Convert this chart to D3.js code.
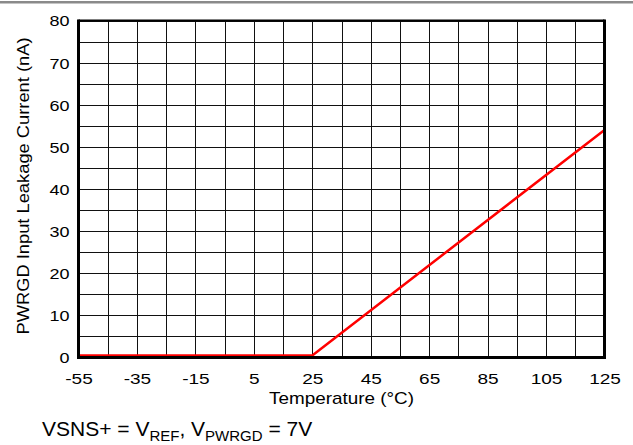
<!DOCTYPE html>
<html><head><meta charset="utf-8">
<script src="https://cdn.jsdelivr.net/npm/d3@7"></script>
<style>body{margin:0;background:#fff;} svg{display:block;} text{font-family:"Liberation Sans",Arial,sans-serif;fill:#000;}</style>
</head><body>
<svg id="c" width="633" height="445"></svg>
<script>
const temps = [-55, 25, 125];
const leakage = [0.5, 0.5, 54];
const xTicks = [-55, -35, -15, 5, 25, 45, 65, 85, 105, 125];
const yTicks = [0, 10, 20, 30, 40, 50, 60, 70, 80];
const xLabel = "Temperature (°C)";
const yLabel = "PWRGD Input Leakage Current (nA)";

const svg = d3.select("#c");
const L = 78.5, R = 604.5, T = 20.5, B = 357.5;
const x = d3.scaleLinear().domain([-55, 125]).range([L, R]);
const y = d3.scaleLinear().domain([0, 80]).range([B, T]);

// top bar
svg.append("rect").attr("x", 0).attr("y", 1).attr("width", 633).attr("height", 2.5).attr("fill", "#8a8a8a");

// grid
const g = svg.append("g");
g.selectAll(".vg").data(d3.range(-55, 126, 10)).enter().append("line")
  .attr("x1", d => Math.round(x(d)) + 0.5).attr("x2", d => Math.round(x(d)) + 0.5)
  .attr("y1", T).attr("y2", B).attr("stroke", "#111").attr("stroke-width", 1);
g.selectAll(".hg").data(d3.range(0, 81, 5)).enter().append("line")
  .attr("y1", d => Math.round(y(d)) + 0.5).attr("y2", d => Math.round(y(d)) + 0.5)
  .attr("x1", L).attr("x2", R).attr("stroke", "#111").attr("stroke-width", 1);

// data line
svg.append("path")
  .datum(temps.map((t, i) => [t, leakage[i]]))
  .attr("d", d3.line().x(d => x(d[0])).y(d => y(d[1])))
  .attr("fill", "none").attr("stroke", "#ff0000").attr("stroke-width", 2.5);

// border
svg.append("line").attr("x1", L).attr("x2", R).attr("y1", T).attr("y2", T).attr("stroke", "#000").attr("stroke-width", 2);
svg.append("line").attr("x1", R).attr("x2", R).attr("y1", T - 1).attr("y2", B + 1.5).attr("stroke", "#000").attr("stroke-width", 3);
svg.append("line").attr("x1", L).attr("x2", L).attr("y1", T - 1).attr("y2", B + 1.5).attr("stroke", "#000").attr("stroke-width", 3);
svg.append("line").attr("x1", L - 1.5).attr("x2", R + 1.5).attr("y1", B).attr("y2", B).attr("stroke", "#000").attr("stroke-width", 3);

// axes
const fmt = d => String(d);
const xAxis = d3.axisBottom(x).tickValues(xTicks).tickFormat(fmt).tickSize(0).tickPadding(0);
const xa = svg.append("g").attr("transform", `translate(0,${B})`).call(xAxis);
xa.select(".domain").remove();
xa.selectAll("text").attr("font-size", 15).attr("dy", null).attr("y", 27)
  .attr("transform", "scale(1.27,1)")
  .style("font-family", '"Liberation Sans",Arial,sans-serif').attr("fill", "#000");

const yAxis = d3.axisLeft(y).tickValues(yTicks).tickFormat(fmt).tickSize(0).tickPadding(0);
const ya = svg.append("g").attr("transform", `translate(${L - 9},0)`).call(yAxis);
ya.select(".domain").remove();
ya.selectAll("text").attr("font-size", 15).attr("dy", "0.36em").attr("x", 0)
  .attr("transform", "scale(1.2,1)")
  .style("font-family", '"Liberation Sans",Arial,sans-serif').attr("fill", "#000");

svg.append("text").attr("transform", "translate(341.5,404) scale(1.18,1)").attr("text-anchor", "middle")
  .attr("font-size", 16).text(xLabel);
svg.append("text").attr("transform", `translate(29,186) rotate(-90) scale(1.11,1)`).attr("text-anchor", "middle")
  .attr("font-size", 16.5).text(yLabel);

// footnote
const fn = svg.append("text").attr("x", 42).attr("y", 436).attr("font-size", 21);
fn.append("tspan").text("VSNS+ = V");
fn.append("tspan").attr("font-size", 15).attr("dy", 5).text("REF");
fn.append("tspan").attr("dy", -5).text(", V");
fn.append("tspan").attr("font-size", 15).attr("dy", 5).text("PWRGD");
fn.append("tspan").attr("dy", -5).text(" = 7V");
</script>
</body></html>
